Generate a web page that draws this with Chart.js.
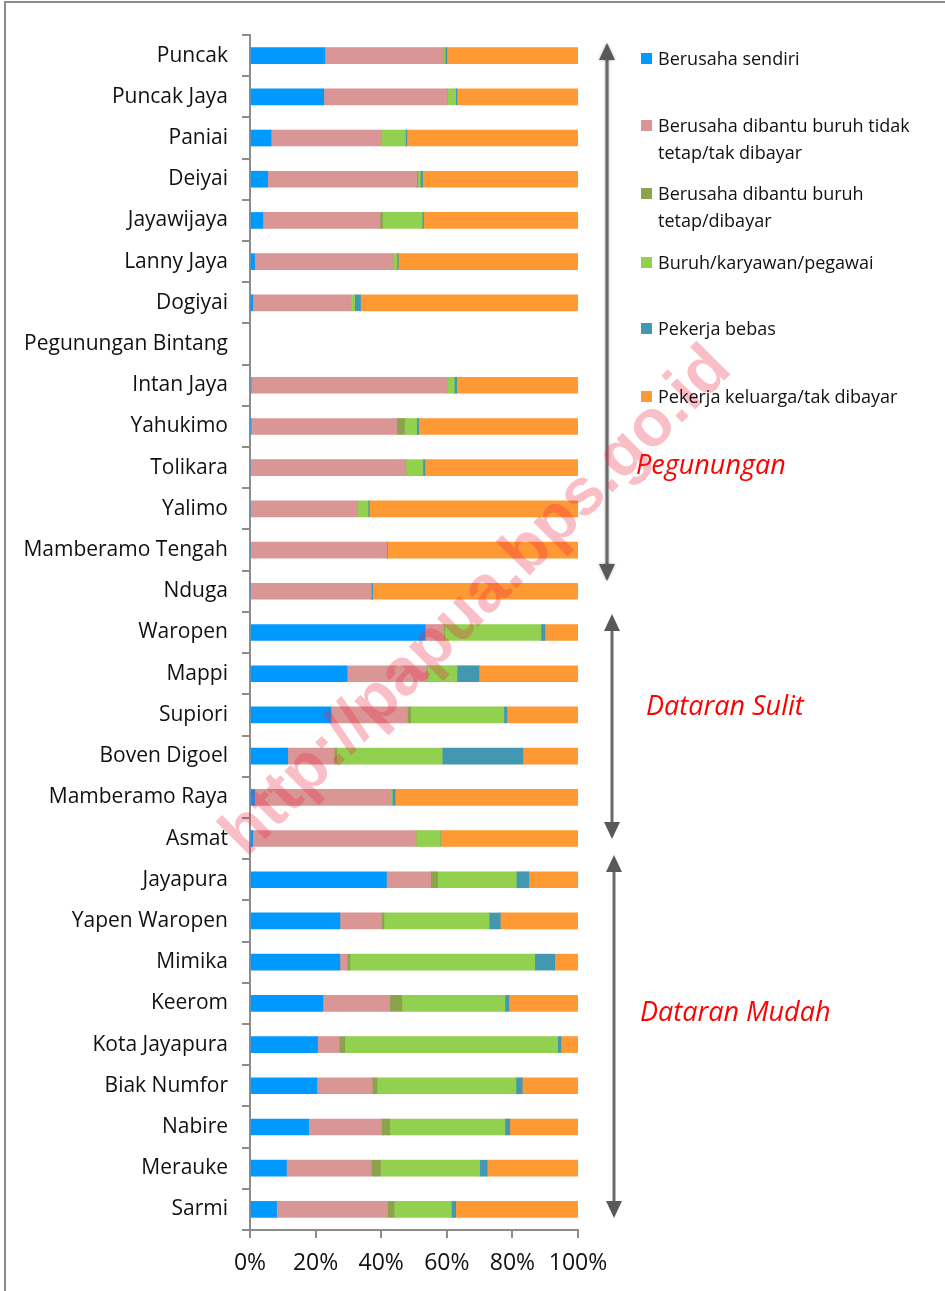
<!DOCTYPE html>
<html>
<head>
<meta charset="utf-8">
<script src="https://cdn.jsdelivr.net/npm/chart.js@4"></script>
<style>
  body { margin: 0; background: #fff; }
  #wrap { position: relative; width: 945px; height: 1291px; overflow: hidden; }
  #frame { position: absolute; left: 4px; top: 1px; width: 960px; height: 1300px;
           border-top: 2px solid #8c8c8c; border-left: 2px solid #8c8c8c; }
  #legend { position: absolute; left: 0; top: 0; font-family: "Open Sans", sans-serif;
            font-size: 18px; line-height: 27px; color: #111; }
  .item { position: absolute; left: 641px; width: 300px; }
  .box { position: absolute; left: 0; top: 8px; width: 11px; height: 11px; }
  .txt { position: absolute; left: 17px; width: 280px; }
</style>
</head>
<body>
<div id="wrap">
  <div id="frame"></div>
  <canvas id="c" width="945" height="1291"></canvas>
  <div id="legend"></div>
</div>
<script>
// kabupaten / kota
const categories = ['Puncak', 'Puncak Jaya', 'Paniai', 'Deiyai', 'Jayawijaya', 'Lanny Jaya', 'Dogiyai',
  'Pegunungan Bintang', 'Intan Jaya', 'Yahukimo', 'Tolikara', 'Yalimo', 'Mamberamo Tengah', 'Nduga',
  'Waropen', 'Mappi', 'Supiori', 'Boven Digoel', 'Mamberamo Raya', 'Asmat',
  'Jayapura', 'Yapen Waropen', 'Mimika', 'Keerom', 'Kota Jayapura', 'Biak Numfor', 'Nabire', 'Merauke', 'Sarmi'];

// persen per status pekerjaan
const berusahaSendiri   = [22.8, 22.5, 6.4, 5.4, 3.9, 1.4, 0.8, null, 0.3, 0.2, 0, 0, 0, 0, 53.4, 29.6, 24.7, 11.5, 1.4, 0.8, 41.6, 27.4, 27.4, 22.2, 20.6, 20.4, 17.9, 11.1, 8.1];
const dibantuTidakTetap = [36.0, 37.6, 33.5, 45.4, 35.7, 42.2, 29.9, null, 59.7, 44.5, 47.5, 32.8, 41.7, 36.9, 5.6, 24.2, 23.3, 14.2, 41.5, 49.8, 13.5, 12.7, 2.2, 20.4, 6.6, 16.9, 22.2, 25.9, 33.8];
const dibantuTetap      = [0.1, 0, 0, 0.4, 0.8, 0, 0, null, 0, 2.4, 0, 0, 0, 0, 0.3, 0.2, 1.0, 0.7, 0, 0, 2.1, 0.7, 0.9, 3.7, 1.7, 1.4, 2.5, 2.8, 2.0];
const buruh             = [0.6, 2.6, 7.5, 0.7, 12.1, 1.2, 1.2, null, 2.3, 3.7, 5.2, 3.2, 0, 0, 29.4, 9.1, 28.4, 32.2, 0.5, 7.4, 24.0, 32.1, 56.3, 31.4, 64.9, 42.4, 35.1, 30.2, 17.5];
const pekerjaBebas      = [0.5, 0.4, 0.4, 0.7, 0.4, 0.4, 1.8, null, 0.7, 0.6, 0.6, 0.4, 0.2, 0.5, 1.2, 6.7, 0.9, 24.6, 0.8, 0, 3.8, 3.4, 6.1, 1.2, 1.0, 1.9, 1.5, 2.3, 1.3];
const pekerjaKeluarga   = [40.0, 36.9, 52.2, 47.4, 47.1, 54.8, 66.3, null, 37.0, 48.6, 46.7, 63.6, 58.1, 62.6, 10.1, 30.2, 21.7, 16.8, 55.8, 42.0, 15.0, 23.7, 7.1, 21.1, 5.2, 17.0, 20.8, 27.7, 37.3];

const seriesNames = ['Berusaha sendiri', 'Berusaha dibantu buruh tidak tetap/tak dibayar',
  'Berusaha dibantu buruh tetap/dibayar', 'Buruh/karyawan/pegawai', 'Pekerja bebas', 'Pekerja keluarga/tak dibayar'];
const seriesValues = [berusahaSendiri, dibantuTidakTetap, dibantuTetap, buruh, pekerjaBebas, pekerjaKeluarga];
const xTicks = [0, 20, 40, 60, 80, 100];

const colors = ['#0099ff', '#d99694', '#8aa34c', '#92d050', '#4298b0', '#ff9933'];
const legendTops = [45, 112, 180, 249, 315, 383];

const regions = [
  { label: 'Pegunungan', x: 607, y1: 43, y2: 581, tx: 636, ty: 466, soft: true },
  { label: 'Dataran Sulit', x: 612, y1: 614, y2: 839, tx: 646, ty: 707 },
  { label: 'Dataran Mudah', x: 614, y1: 855, y2: 1218, tx: 640, ty: 1013 }
];

function head(ctx, x, tip, dir) {
  ctx.beginPath();
  ctx.moveTo(x, tip);
  ctx.lineTo(x - 8, tip + dir * 17);
  ctx.lineTo(x + 8, tip + dir * 17);
  ctx.closePath();
  ctx.fill();
}

const extras = {
  id: 'extras',
  afterDraw(chart) {
    const ctx = chart.ctx;
    ctx.save();
    regions.forEach(r => {
      ctx.save();
      if (r.soft) { ctx.shadowColor = 'rgba(0,0,0,0.35)'; ctx.shadowBlur = 3; }
      ctx.strokeStyle = '#6a6a6a';
      ctx.fillStyle = '#595959';
      ctx.lineWidth = 3;
      ctx.beginPath();
      ctx.moveTo(r.x, r.y1 + 12);
      ctx.lineTo(r.x, r.y2 - 12);
      ctx.stroke();
      head(ctx, r.x, r.y1, 1);
      head(ctx, r.x, r.y2, -1);
      ctx.restore();
      ctx.fillStyle = '#ff0000';
      ctx.font = 'italic 27px "Open Sans", sans-serif';
      ctx.textBaseline = 'middle';
      ctx.textAlign = 'left';
      ctx.fillText(r.label, r.tx, r.ty);
    });
    // watermark
    ctx.translate(477, 602);
    ctx.rotate(-Math.PI / 4);
    ctx.fillStyle = 'rgba(240, 40, 70, 0.3)';
    ctx.font = 'bold 66px "Liberation Sans", Arial, sans-serif';
    ctx.textAlign = 'center';
    ctx.textBaseline = 'middle';
    ctx.fillText('http://papua.bps.go.id', 0, 0);
    ctx.restore();
  }
};

const chart = new Chart(document.getElementById('c'), {
  type: 'bar',
  data: {
    labels: categories,
    datasets: seriesValues.map((vals, i) => ({
      label: seriesNames[i],
      data: vals,
      backgroundColor: colors[i],
      borderWidth: 0,
      barThickness: 16
    }))
  },
  options: {
    indexAxis: 'y',
    responsive: false,
    animation: false,
    layout: { padding: { top: 35, right: 367, left: 0, bottom: 0 } },
    plugins: { legend: { display: false }, tooltip: { enabled: false } },
    scales: {
      x: {
        stacked: true,
        min: 0,
        max: 100,
        afterFit: s => { s.height = 61; },
        afterBuildTicks: s => { s.ticks = xTicks.map(v => ({ value: v })); },
        ticks: {
          callback: v => v + '%',
          color: '#111',
          padding: 12,
          maxRotation: 0,
          font: { family: '"Open Sans", sans-serif', size: 23 }
        },
        grid: { drawOnChartArea: false, tickLength: 8, color: '#8c8c8c', lineWidth: 2 },
        border: { color: '#8c8c8c', width: 2 }
      },
      y: {
        stacked: true,
        afterFit: s => { s.width = 250; },
        ticks: {
          color: '#111',
          padding: 14,
          autoSkip: false,
          font: { family: '"Open Sans", sans-serif', size: 21 }
        },
        grid: { drawOnChartArea: false, tickLength: 8, color: '#8c8c8c', lineWidth: 2 },
        border: { color: '#8c8c8c', width: 2 }
      }
    }
  },
  plugins: [extras]
});

// legend from the chart's own datasets
document.getElementById('legend').innerHTML = chart.data.datasets.map((d, i) => `
  <div class="item" style="top:${legendTops[i]}px">
    <div class="box" style="background:${d.backgroundColor}"></div>
    <div class="txt">${d.label}</div>
  </div>`).join('');
</script>
</body>
</html>
